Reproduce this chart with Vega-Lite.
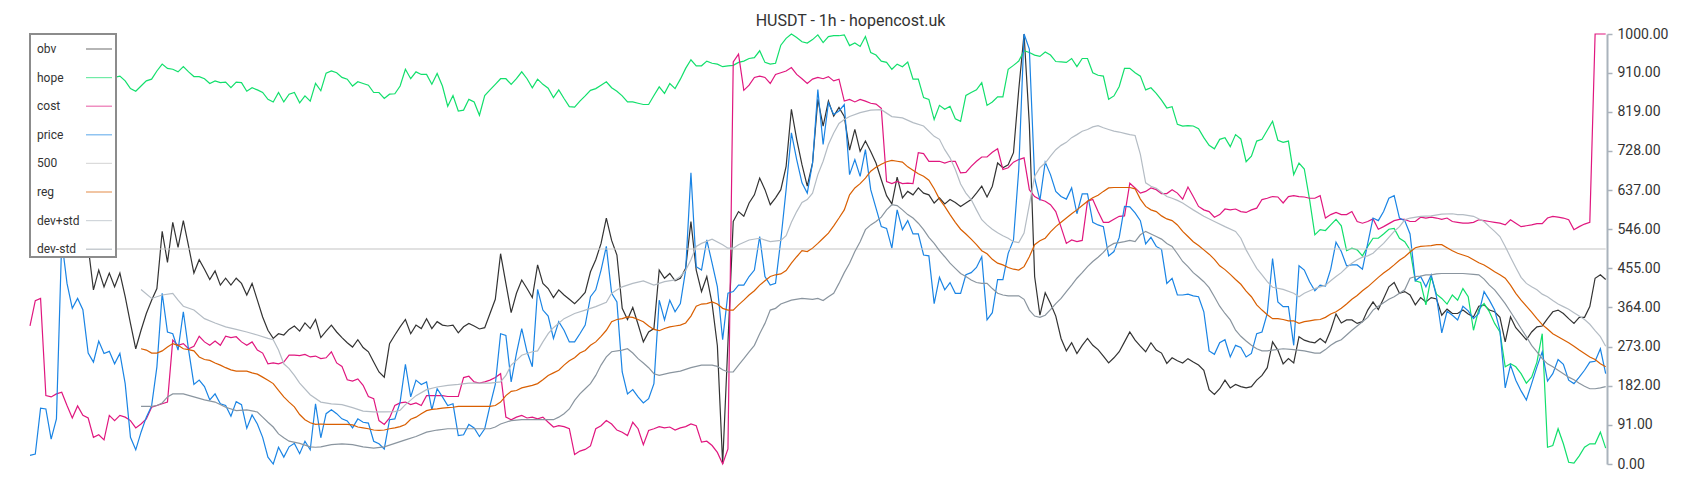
{
"$schema":"https://vega.github.io/schema/vega-lite/v6.json",
"width":1577,"height":430,
"autosize":{"type":"none"},
"padding":{"left":30,"top":34,"right":93,"bottom":36},
"background":"white",
"title":{"text":"HUSDT - 1h - hopencost.uk","fontSize":16,"fontWeight":"normal","color":"#333333","anchor":"middle","offset":-2,"dx":32,"font":"Roboto"},
"config":{"font":"Roboto","view":{"stroke":null},
"legend":{"orient":"top-left","offset":0,"padding":1,"fillColor":"white","strokeColor":"#8c8c8c","strokeWidth":2,"labelFontSize":12,"labelColor":"#333333","labelFont":"Roboto","symbolType":"stroke","symbolSize":676,"symbolStrokeWidth":2.5,"symbolOffset":54,"labelOffset":-76,"rowPadding":8.6,"symbolOpacity":0.6}},
"data":{"values":[
{"i":0,"obv":620,"hope":905,"cost":321,"price":20,"500":500},
{"i":1,"obv":600,"hope":912,"cost":380,"price":23},
{"i":2,"obv":585,"hope":920,"cost":385,"price":130},
{"i":3,"obv":610,"hope":915,"cost":159,"price":128},
{"i":4,"obv":590,"hope":905,"cost":156,"price":58},
{"i":5,"obv":570,"hope":898,"cost":163,"price":105},
{"i":6,"obv":555,"hope":890,"cost":167,"price":520},
{"i":7,"obv":580,"hope":895,"cost":136,"price":420},
{"i":8,"obv":560,"hope":902,"cost":107,"price":362},
{"i":9,"obv":540,"hope":910,"cost":135,"price":385},
{"i":10,"obv":525,"hope":905,"cost":113,"price":359},
{"i":11,"obv":506,"hope":898,"cost":107,"price":258},
{"i":12,"obv":405,"hope":893,"cost":62,"price":237},
{"i":13,"obv":451,"hope":896,"cost":68,"price":286},
{"i":14,"obv":412,"hope":900,"cost":56,"price":257},
{"i":15,"obv":444,"hope":901,"cost":113,"price":262},
{"i":16,"obv":412,"hope":899,"cost":101,"price":233},
{"i":17,"obv":444,"hope":902,"cost":113,"price":257},
{"i":18,"obv":389,"hope":891,"cost":109,"price":187},
{"i":19,"obv":327,"hope":873,"cost":101,"price":62},
{"i":20,"obv":268,"hope":867,"cost":84,"price":33},
{"i":21,"obv":311,"hope":879,"cost":93,"price":74,"reg":268,"dev+std":406,"dev-std":134},
{"i":22,"obv":350,"hope":891,"cost":105,"price":109,"reg":265},
{"i":23,"obv":381,"hope":895,"cost":132,"price":135,"reg":258,"dev+std":385,"dev-std":134},
{"i":24,"obv":408,"hope":914,"cost":136,"price":226,"reg":258,"dev-std":136},
{"i":25,"obv":541,"hope":930,"cost":140,"price":397,"reg":263,"dev+std":393,"dev-std":142},
{"i":26,"obv":469,"hope":920,"cost":144,"price":307,"reg":272,"dev-std":156},
{"i":27,"obv":562,"hope":918,"cost":288,"price":303,"reg":280,"dev+std":397,"dev-std":163},
{"i":28,"obv":504,"hope":912,"cost":276,"price":265,"reg":276,"dev+std":381},
{"i":29,"obv":566,"hope":924,"cost":280,"price":354,"reg":268,"dev+std":367,"dev-std":163},
{"i":30,"obv":506,"hope":912,"cost":268,"price":265,"reg":266},
{"i":31,"obv":444,"hope":901,"cost":274,"price":185,"reg":263,"dev+std":358,"dev-std":156},
{"i":32,"obv":475,"hope":901,"cost":297,"price":195,"reg":249},
{"i":33,"obv":453,"hope":896,"cost":284,"price":180,"reg":243,"dev+std":338,"dev-std":149},
{"i":34,"obv":429,"hope":885,"cost":276,"price":149,"reg":241},
{"i":35,"obv":449,"hope":891,"cost":286,"price":163,"reg":235,"dev+std":328,"dev-std":144},
{"i":36,"obv":416,"hope":887,"cost":276,"price":140,"reg":230},
{"i":37,"obv":432,"hope":888,"cost":297,"price":136,"reg":224,"dev+std":319,"dev-std":132},
{"i":38,"obv":416,"hope":875,"cost":294,"price":111,"reg":219},
{"i":39,"obv":432,"hope":888,"cost":296,"price":145,"reg":216,"dev+std":313,"dev-std":124},
{"i":40,"obv":420,"hope":887,"cost":284,"price":138,"reg":216},
{"i":41,"obv":393,"hope":867,"cost":276,"price":83,"reg":216,"dev+std":307,"dev-std":126},
{"i":42,"obv":420,"hope":875,"cost":284,"price":114,"reg":212},
{"i":43,"obv":381,"hope":870,"cost":265,"price":93,"reg":209,"dev+std":300,"dev-std":121},
{"i":44,"obv":342,"hope":864,"cost":258,"price":62,"reg":202,"dev-std":109},
{"i":45,"obv":311,"hope":848,"cost":233,"price":16,"reg":195,"dev+std":292,"dev-std":97},
{"i":46,"obv":292,"hope":842,"cost":235,"price":0,"reg":187,"dev+std":289,"dev-std":86},
{"i":47,"obv":303,"hope":864,"cost":233,"price":39,"reg":171,"dev+std":265,"dev-std":70},
{"i":48,"obv":300,"hope":842,"cost":237,"price":16,"reg":156,"dev+std":233,"dev-std":61},
{"i":49,"obv":313,"hope":860,"cost":253,"price":40,"reg":144,"dev+std":222,"dev-std":53},
{"i":50,"obv":321,"hope":864,"cost":253,"price":48,"reg":133,"dev+std":206},
{"i":51,"obv":309,"hope":840,"cost":252,"price":24,"reg":115,"dev+std":188,"dev-std":48},
{"i":52,"obv":328,"hope":856,"cost":255,"price":53,"reg":103},
{"i":53,"obv":315,"hope":844,"cost":249,"price":33,"reg":96,"dev+std":161,"dev-std":40},
{"i":54,"obv":336,"hope":885,"cost":251,"price":140,"reg":92,"dev-std":39},
{"i":55,"obv":294,"hope":868,"cost":245,"price":61,"reg":93,"dev+std":144,"dev-std":40},
{"i":56,"obv":309,"hope":909,"cost":247,"price":117,"reg":92},
{"i":57,"obv":323,"hope":914,"cost":261,"price":126,"reg":92,"dev+std":140,"dev-std":45},
{"i":58,"obv":307,"hope":910,"cost":235,"price":117,"reg":92},
{"i":59,"obv":294,"hope":899,"cost":227,"price":105,"reg":92,"dev+std":138,"dev-std":47},
{"i":60,"obv":282,"hope":895,"cost":196,"price":100,"reg":92},
{"i":61,"obv":272,"hope":879,"cost":193,"price":84,"reg":91,"dev+std":131,"dev-std":45},
{"i":62,"obv":289,"hope":889,"cost":198,"price":105,"reg":86},
{"i":63,"obv":271,"hope":885,"cost":183,"price":97,"reg":84,"dev+std":123,"dev-std":40},
{"i":64,"obv":261,"hope":881,"cost":157,"price":95,"reg":82},
{"i":65,"obv":237,"hope":864,"cost":152,"price":53,"reg":79,"dev+std":121,"dev-std":37},
{"i":66,"obv":214,"hope":864,"cost":101,"price":47,"reg":78},
{"i":67,"obv":202,"hope":850,"cost":92,"price":35,"reg":79,"dev+std":121,"dev-std":40},
{"i":68,"obv":280,"hope":860,"cost":107,"price":103,"reg":82},
{"i":69,"obv":300,"hope":861,"cost":136,"price":105,"reg":84,"dev+std":122,"dev-std":48},
{"i":70,"obv":319,"hope":879,"cost":142,"price":144,"reg":87,"dev+std":125},
{"i":71,"obv":336,"hope":918,"cost":144,"price":232,"reg":92,"dev+std":138,"dev-std":56},
{"i":72,"obv":303,"hope":896,"cost":138,"price":156,"reg":104},
{"i":73,"obv":323,"hope":912,"cost":142,"price":195,"reg":109,"dev+std":159,"dev-std":64},
{"i":74,"obv":315,"hope":906,"cost":136,"price":185,"reg":117},
{"i":75,"obv":338,"hope":906,"cost":159,"price":191,"reg":124,"dev+std":173,"dev-std":74},
{"i":76,"obv":315,"hope":883,"cost":159,"price":126,"reg":127},
{"i":77,"obv":331,"hope":908,"cost":159,"price":175,"reg":128,"dev+std":179,"dev-std":79},
{"i":78,"obv":323,"hope":879,"cost":159,"price":156,"reg":130},
{"i":79,"obv":321,"hope":832,"cost":157,"price":136,"reg":131,"dev+std":183,"dev-std":82},
{"i":80,"obv":323,"hope":857,"cost":157,"price":140,"reg":132},
{"i":81,"obv":305,"hope":821,"cost":157,"price":66,"reg":134,"dev+std":185,"dev-std":82},
{"i":82,"obv":319,"hope":823,"cost":201,"price":68,"reg":134},
{"i":83,"obv":327,"hope":848,"cost":204,"price":92,"reg":134,"dev+std":188,"dev-std":82},
{"i":84,"obv":321,"hope":842,"cost":191,"price":84,"reg":134},
{"i":85,"obv":314,"hope":811,"cost":188,"price":64,"reg":134,"dev+std":188,"dev-std":82},
{"i":86,"obv":317,"hope":857,"cost":191,"price":82,"reg":134},
{"i":87,"obv":350,"hope":870,"cost":195,"price":136,"reg":134,"dev+std":188,"dev-std":82},
{"i":88,"obv":383,"hope":883,"cost":201,"price":185,"reg":136,"dev-std":86},
{"i":89,"obv":489,"hope":896,"cost":210,"price":303,"reg":144,"dev+std":191,"dev-std":93},
{"i":90,"obv":420,"hope":896,"cost":109,"price":299,"reg":159,"dev+std":206,"dev-std":97},
{"i":91,"obv":352,"hope":883,"cost":103,"price":191,"reg":169,"dev+std":230,"dev-std":101},
{"i":92,"obv":397,"hope":896,"cost":109,"price":257,"reg":171,"dev+std":241},
{"i":93,"obv":428,"hope":912,"cost":113,"price":315,"reg":177,"dev+std":253,"dev-std":103},
{"i":94,"obv":408,"hope":896,"cost":107,"price":261,"reg":180},
{"i":95,"obv":387,"hope":875,"cost":109,"price":226,"reg":183,"dev+std":261,"dev-std":103},
{"i":96,"obv":463,"hope":895,"cost":105,"price":406,"reg":187,"dev+std":263},
{"i":97,"obv":420,"hope":883,"cost":109,"price":358,"reg":196,"dev+std":284,"dev-std":103},
{"i":98,"obv":408,"hope":874,"cost":97,"price":344,"reg":206,"dev+std":303},
{"i":99,"obv":387,"hope":852,"cost":86,"price":292,"reg":212,"dev+std":317,"dev-std":103},
{"i":100,"obv":405,"hope":870,"cost":89,"price":331,"reg":218,"dev-std":109},
{"i":101,"obv":393,"hope":850,"cost":87,"price":311,"reg":230,"dev+std":338,"dev-std":117},
{"i":102,"obv":383,"hope":831,"cost":82,"price":284,"reg":240,"dev-std":128},
{"i":103,"obv":373,"hope":830,"cost":22,"price":284,"reg":247,"dev+std":350,"dev-std":148},
{"i":104,"obv":385,"hope":844,"cost":30,"price":303,"reg":258,"dev-std":163},
{"i":105,"obv":399,"hope":856,"cost":34,"price":323,"reg":264,"dev+std":358,"dev-std":175},
{"i":106,"obv":447,"hope":869,"cost":42,"price":389,"reg":276,"dev-std":187},
{"i":107,"obv":475,"hope":873,"cost":82,"price":405,"reg":284,"dev+std":366,"dev-std":206},
{"i":108,"obv":513,"hope":881,"cost":89,"price":451,"reg":297,"dev-std":230},
{"i":109,"obv":572,"hope":889,"cost":101,"price":506,"reg":311,"dev+std":376,"dev-std":249},
{"i":110,"obv":520,"hope":875,"cost":93,"price":397,"reg":331,"dev+std":397,"dev-std":261},
{"i":111,"obv":486,"hope":867,"cost":79,"price":377,"reg":336},
{"i":112,"obv":362,"hope":856,"cost":74,"price":214,"reg":338,"dev+std":412,"dev-std":265},
{"i":113,"obv":336,"hope":842,"cost":66,"price":163,"reg":342,"dev-std":268},
{"i":114,"obv":364,"hope":842,"cost":97,"price":173,"reg":341,"dev+std":420,"dev-std":258},
{"i":115,"obv":325,"hope":839,"cost":82,"price":156,"reg":336,"dev-std":245},
{"i":116,"obv":284,"hope":836,"cost":45,"price":142,"reg":331,"dev+std":426,"dev-std":235},
{"i":117,"obv":307,"hope":836,"cost":78,"price":152,"reg":321,"dev-std":224},
{"i":118,"obv":315,"hope":857,"cost":82,"price":187,"reg":313,"dev+std":416,"dev-std":210},
{"i":119,"obv":451,"hope":877,"cost":87,"price":381,"reg":310,"dev-std":206},
{"i":120,"obv":432,"hope":862,"cost":84,"price":335,"reg":315,"dev+std":424},
{"i":121,"obv":443,"hope":885,"cost":86,"price":381,"reg":319,"dev-std":212},
{"i":122,"obv":426,"hope":873,"cost":79,"price":354,"reg":321,"dev+std":428},
{"i":123,"obv":432,"hope":895,"cost":84,"price":373,"reg":323,"dev+std":436,"dev-std":216},
{"i":124,"obv":455,"hope":920,"cost":87,"price":451,"reg":328,"dev+std":450},
{"i":125,"obv":564,"hope":940,"cost":93,"price":677,"reg":344,"dev+std":475,"dev-std":224},
{"i":126,"obv":451,"hope":926,"cost":89,"price":459,"reg":367,"dev+std":506},
{"i":127,"obv":401,"hope":926,"cost":51,"price":451,"reg":372,"dev+std":513,"dev-std":230},
{"i":128,"obv":436,"hope":937,"cost":53,"price":521,"reg":373},
{"i":129,"obv":373,"hope":932,"cost":43,"price":467,"reg":377,"dev+std":523,"dev-std":230},
{"i":130,"obv":275,"hope":930,"cost":27,"price":412,"reg":372,"dev-std":227},
{"i":131,"obv":0,"hope":924,"cost":0,"price":289,"reg":362,"dev+std":510,"dev-std":219},
{"i":132,"obv":282,"hope":926,"cost":35,"price":397,"reg":358,"dev+std":502,"dev-std":214},
{"i":133,"obv":564,"hope":927,"cost":935,"price":401,"reg":358,"dev+std":502,"dev-std":214},
{"i":134,"obv":587,"hope":934,"cost":953,"price":416,"reg":370,"dev+std":510,"dev-std":230},
{"i":135,"obv":576,"hope":937,"cost":869,"price":416,"reg":381,"dev-std":245},
{"i":136,"obv":607,"hope":943,"cost":881,"price":436,"reg":393,"dev+std":521,"dev-std":261},
{"i":137,"obv":626,"hope":945,"cost":899,"price":451,"reg":403,"dev-std":276},
{"i":138,"obv":665,"hope":961,"cost":902,"price":529,"reg":416,"dev+std":525,"dev-std":303},
{"i":139,"obv":638,"hope":934,"cost":899,"price":436,"reg":426,"dev-std":327},
{"i":140,"obv":603,"hope":930,"cost":885,"price":416,"reg":436,"dev+std":517,"dev-std":358},
{"i":141,"obv":619,"hope":932,"cost":906,"price":420,"reg":440,"dev-std":362},
{"i":142,"obv":638,"hope":974,"cost":910,"price":521,"reg":442,"dev+std":520,"dev-std":372},
{"i":143,"obv":692,"hope":990,"cost":914,"price":638,"reg":450,"dev+std":531},
{"i":144,"obv":825,"hope":1000,"cost":922,"price":770,"reg":467,"dev+std":562,"dev-std":381},
{"i":145,"obv":755,"hope":992,"cost":906,"price":708,"reg":482,"dev+std":587},
{"i":146,"obv":696,"hope":982,"cost":896,"price":654,"reg":496,"dev+std":608,"dev-std":385},
{"i":147,"obv":646,"hope":979,"cost":885,"price":630,"reg":494,"dev+std":615},
{"i":148,"obv":700,"hope":987,"cost":895,"price":700,"reg":502,"dev+std":630,"dev-std":383},
{"i":149,"obv":848,"hope":998,"cost":899,"price":871,"reg":513,"dev+std":673,"dev-std":385},
{"i":150,"obv":786,"hope":980,"cost":896,"price":743,"reg":525,"dev+std":704,"dev-std":380},
{"i":151,"obv":844,"hope":994,"cost":901,"price":840,"reg":537,"dev+std":743,"dev-std":389},
{"i":152,"obv":809,"hope":996,"cost":891,"price":813,"reg":554,"dev+std":770,"dev-std":397},
{"i":153,"obv":829,"hope":996,"cost":895,"price":821,"reg":572,"dev+std":792,"dev-std":420},
{"i":154,"obv":808,"hope":998,"cost":844,"price":836,"reg":591,"dev+std":801,"dev-std":445},
{"i":155,"obv":730,"hope":973,"cost":848,"price":673,"reg":626,"dev+std":808,"dev-std":467},
{"i":156,"obv":778,"hope":979,"cost":842,"price":708,"reg":642,"dev-std":494},
{"i":157,"obv":727,"hope":971,"cost":848,"price":669,"reg":652,"dev+std":817,"dev-std":517},
{"i":158,"obv":751,"hope":994,"cost":844,"price":731,"reg":665,"dev-std":545},
{"i":159,"obv":727,"hope":957,"cost":839,"price":638,"reg":681,"dev+std":823,"dev-std":556},
{"i":160,"obv":700,"hope":951,"cost":837,"price":595,"reg":690,"dev-std":564},
{"i":161,"obv":661,"hope":937,"cost":827,"price":552,"reg":697,"dev+std":824,"dev-std":574},
{"i":162,"obv":624,"hope":934,"cost":657,"price":548,"reg":703,"dev-std":591},
{"i":163,"obv":605,"hope":918,"cost":652,"price":502,"reg":706,"dev+std":808,"dev-std":603},
{"i":164,"obv":667,"hope":930,"cost":657,"price":591,"reg":704,"dev-std":601},
{"i":165,"obv":619,"hope":924,"cost":652,"price":545,"reg":702,"dev+std":805,"dev-std":591},
{"i":166,"obv":634,"hope":935,"cost":653,"price":566,"reg":691,"dev-std":580},
{"i":167,"obv":626,"hope":895,"cost":652,"price":535,"reg":683,"dev+std":794,"dev-std":572},
{"i":168,"obv":642,"hope":895,"cost":724,"price":535,"reg":675,"dev-std":560},
{"i":169,"obv":630,"hope":852,"cost":722,"price":486,"reg":669,"dev+std":786,"dev-std":545},
{"i":170,"obv":626,"hope":848,"cost":704,"price":484,"reg":660,"dev-std":527},
{"i":171,"obv":607,"hope":801,"cost":704,"price":373,"reg":640,"dev+std":762,"dev-std":513},
{"i":172,"obv":619,"hope":834,"cost":704,"price":434,"reg":616,"dev+std":755,"dev-std":496},
{"i":173,"obv":605,"hope":825,"cost":700,"price":405,"reg":599,"dev+std":731,"dev-std":482},
{"i":174,"obv":615,"hope":832,"cost":704,"price":422,"reg":580,"dev+std":712,"dev-std":467},
{"i":175,"obv":608,"hope":803,"cost":704,"price":397,"reg":562,"dev+std":685,"dev-std":455},
{"i":176,"obv":599,"hope":797,"cost":677,"price":397,"reg":546,"dev+std":651,"dev-std":443},
{"i":177,"obv":607,"hope":857,"cost":678,"price":440,"reg":535,"dev+std":630,"dev-std":436},
{"i":178,"obv":615,"hope":864,"cost":692,"price":445,"reg":523,"dev+std":615,"dev-std":428},
{"i":179,"obv":630,"hope":870,"cost":704,"price":457,"reg":510,"dev+std":591,"dev-std":422},
{"i":180,"obv":646,"hope":887,"cost":714,"price":482,"reg":496,"dev+std":568,"dev-std":420},
{"i":181,"obv":621,"hope":834,"cost":714,"price":335,"reg":489,"dev+std":556,"dev-std":420},
{"i":182,"obv":646,"hope":842,"cost":725,"price":352,"reg":476,"dev+std":546,"dev-std":408},
{"i":183,"obv":700,"hope":854,"cost":733,"price":429,"reg":467,"dev+std":538,"dev-std":397},
{"i":184,"obv":689,"hope":854,"cost":685,"price":429,"reg":463,"dev+std":531,"dev-std":393},
{"i":185,"obv":696,"hope":918,"cost":689,"price":490,"reg":457,"dev+std":525,"dev-std":391},
{"i":186,"obv":724,"hope":927,"cost":702,"price":521,"reg":453,"dev+std":517,"dev-std":391},
{"i":187,"obv":871,"hope":937,"cost":708,"price":685,"reg":451,"dev+std":515,"dev-std":391},
{"i":188,"obv":1000,"hope":961,"cost":712,"price":1000,"reg":459,"dev+std":537,"dev-std":383},
{"i":189,"obv":790,"hope":957,"cost":638,"price":965,"reg":482,"dev+std":603,"dev-std":358},
{"i":190,"obv":436,"hope":951,"cost":622,"price":665,"reg":510,"dev+std":669,"dev-std":344},
{"i":191,"obv":346,"hope":948,"cost":615,"price":613,"reg":519,"dev+std":689,"dev-std":341},
{"i":192,"obv":398,"hope":958,"cost":611,"price":702,"reg":525,"dev+std":700,"dev-std":346},
{"i":193,"obv":373,"hope":951,"cost":603,"price":673,"reg":540,"dev+std":716,"dev-std":359},
{"i":194,"obv":344,"hope":936,"cost":587,"price":634,"reg":552,"dev+std":731,"dev-std":373},
{"i":195,"obv":292,"hope":935,"cost":551,"price":622,"reg":562,"dev+std":741,"dev-std":385},
{"i":196,"obv":263,"hope":934,"cost":513,"price":616,"reg":572,"dev+std":748,"dev-std":401},
{"i":197,"obv":282,"hope":943,"cost":521,"price":642,"reg":582,"dev+std":759,"dev-std":416},
{"i":198,"obv":257,"hope":924,"cost":517,"price":582,"reg":591,"dev+std":766,"dev-std":432},
{"i":199,"obv":276,"hope":943,"cost":520,"price":628,"reg":601,"dev+std":774,"dev-std":445},
{"i":200,"obv":292,"hope":943,"cost":611,"price":628,"reg":611,"dev+std":778,"dev-std":459},
{"i":201,"obv":276,"hope":910,"cost":615,"price":562,"reg":619,"dev+std":784,"dev-std":471},
{"i":202,"obv":266,"hope":904,"cost":587,"price":556,"reg":625,"dev+std":787,"dev-std":481},
{"i":203,"obv":251,"hope":902,"cost":562,"price":552,"reg":634,"dev+std":782,"dev-std":492},
{"i":204,"obv":235,"hope":848,"cost":562,"price":484,"reg":642,"dev+std":778,"dev-std":506},
{"i":205,"obv":247,"hope":856,"cost":569,"price":494,"reg":643,"dev+std":774,"dev-std":513},
{"i":206,"obv":261,"hope":878,"cost":576,"price":527,"reg":643,"dev+std":772,"dev-std":515},
{"i":207,"obv":284,"hope":920,"cost":577,"price":599,"reg":643,"dev+std":769,"dev-std":517},
{"i":208,"obv":307,"hope":920,"cost":653,"price":598,"reg":643,"dev+std":766,"dev-std":520},
{"i":209,"obv":288,"hope":910,"cost":642,"price":584,"reg":640,"dev+std":764,"dev-std":517},
{"i":210,"obv":274,"hope":902,"cost":630,"price":566,"reg":616,"dev+std":720,"dev-std":533},
{"i":211,"obv":261,"hope":870,"cost":634,"price":512,"reg":599,"dev+std":654,"dev-std":541},
{"i":212,"obv":282,"hope":875,"cost":642,"price":527,"reg":591,"dev+std":646,"dev-std":535},
{"i":213,"obv":265,"hope":862,"cost":638,"price":506,"reg":587,"dev+std":641,"dev-std":529},
{"i":214,"obv":258,"hope":846,"cost":629,"price":499,"reg":577,"dev+std":632,"dev-std":523},
{"i":215,"obv":234,"hope":828,"cost":629,"price":420,"reg":570,"dev+std":622,"dev-std":513},
{"i":216,"obv":247,"hope":831,"cost":638,"price":432,"reg":566,"dev+std":618,"dev-std":506},
{"i":217,"obv":240,"hope":790,"cost":630,"price":393,"reg":556,"dev+std":613,"dev-std":489},
{"i":218,"obv":235,"hope":786,"cost":616,"price":393,"reg":541,"dev+std":607,"dev-std":471},
{"i":219,"obv":245,"hope":787,"cost":644,"price":395,"reg":529,"dev+std":599,"dev-std":459},
{"i":220,"obv":237,"hope":786,"cost":622,"price":391,"reg":517,"dev+std":591,"dev-std":445},
{"i":221,"obv":230,"hope":780,"cost":599,"price":389,"reg":508,"dev-std":435},
{"i":222,"obv":218,"hope":759,"cost":591,"price":354,"reg":498,"dev+std":576,"dev-std":424},
{"i":223,"obv":173,"hope":741,"cost":587,"price":263,"reg":488,"dev-std":410},
{"i":224,"obv":162,"hope":733,"cost":574,"price":255,"reg":476,"dev+std":564,"dev-std":389},
{"i":225,"obv":175,"hope":755,"cost":580,"price":282,"reg":461,"dev-std":367},
{"i":226,"obv":195,"hope":759,"cost":593,"price":289,"reg":452,"dev+std":552,"dev-std":350},
{"i":227,"obv":177,"hope":738,"cost":591,"price":249,"reg":441,"dev-std":335},
{"i":228,"obv":185,"hope":766,"cost":593,"price":276,"reg":429,"dev+std":541,"dev-std":311},
{"i":229,"obv":180,"hope":756,"cost":587,"price":271,"reg":418,"dev+std":525,"dev-std":297},
{"i":230,"obv":177,"hope":703,"cost":585,"price":249,"reg":402,"dev+std":498,"dev-std":286},
{"i":231,"obv":180,"hope":716,"cost":591,"price":257,"reg":389,"dev+std":476,"dev-std":276},
{"i":232,"obv":195,"hope":751,"cost":595,"price":303,"reg":370,"dev+std":455,"dev-std":268},
{"i":233,"obv":206,"hope":755,"cost":615,"price":307,"reg":358,"dev+std":440,"dev-std":263},
{"i":234,"obv":224,"hope":776,"cost":618,"price":350,"reg":347,"dev+std":424,"dev-std":263},
{"i":235,"obv":284,"hope":797,"cost":622,"price":478,"reg":338,"dev+std":411,"dev-std":265},
{"i":236,"obv":265,"hope":753,"cost":621,"price":377,"reg":338},
{"i":237,"obv":233,"hope":748,"cost":607,"price":366,"reg":336,"dev+std":406,"dev-std":268},
{"i":238,"obv":245,"hope":751,"cost":622,"price":366,"reg":333},
{"i":239,"obv":235,"hope":673,"cost":624,"price":276,"reg":333,"dev+std":397,"dev-std":266},
{"i":240,"obv":296,"hope":700,"cost":622,"price":461,"reg":327,"dev+std":389},
{"i":241,"obv":288,"hope":686,"cost":621,"price":451,"reg":331,"dev+std":397,"dev-std":263},
{"i":242,"obv":284,"hope":615,"cost":618,"price":424,"reg":333},
{"i":243,"obv":282,"hope":533,"cost":618,"price":403,"reg":335,"dev+std":408,"dev-std":258},
{"i":244,"obv":292,"hope":545,"cost":624,"price":416,"reg":336,"dev-std":258},
{"i":245,"obv":282,"hope":543,"cost":572,"price":414,"reg":341,"dev+std":416,"dev-std":266},
{"i":246,"obv":311,"hope":556,"cost":580,"price":453,"reg":349,"dev+std":426,"dev-std":276},
{"i":247,"obv":349,"hope":569,"cost":585,"price":516,"reg":354,"dev+std":436,"dev-std":284},
{"i":248,"obv":328,"hope":554,"cost":580,"price":494,"reg":362,"dev+std":445,"dev-std":289},
{"i":249,"obv":335,"hope":496,"cost":580,"price":461,"reg":372,"dev+std":457,"dev-std":300},
{"i":250,"obv":335,"hope":502,"cost":587,"price":463,"reg":383,"dev+std":467,"dev-std":311},
{"i":251,"obv":327,"hope":498,"cost":564,"price":463,"reg":392,"dev+std":475,"dev-std":321},
{"i":252,"obv":331,"hope":484,"cost":560,"price":453,"reg":403,"dev+std":481,"dev-std":331},
{"i":253,"obv":358,"hope":506,"cost":564,"price":513,"reg":412,"dev+std":484,"dev-std":341},
{"i":254,"obv":377,"hope":525,"cost":570,"price":572,"reg":423,"dev+std":490,"dev-std":358},
{"i":255,"obv":359,"hope":525,"cost":546,"price":566,"reg":434,"dev+std":502,"dev-std":367},
{"i":256,"obv":385,"hope":535,"cost":552,"price":587,"reg":444,"dev+std":513,"dev-std":375},
{"i":257,"obv":412,"hope":546,"cost":559,"price":618,"reg":453,"dev+std":527,"dev-std":383},
{"i":258,"obv":422,"hope":548,"cost":566,"price":624,"reg":463,"dev+std":541,"dev-std":389},
{"i":259,"obv":397,"hope":525,"cost":569,"price":572,"reg":474,"dev+std":552,"dev-std":397},
{"i":260,"obv":401,"hope":517,"cost":569,"price":566,"reg":482,"dev+std":568,"dev-std":405},
{"i":261,"obv":393,"hope":498,"cost":564,"price":535,"reg":493,"dev+std":572,"dev-std":432},
{"i":262,"obv":370,"hope":426,"cost":564,"price":426,"reg":503,"dev-std":436},
{"i":263,"obv":387,"hope":422,"cost":574,"price":436,"reg":506,"dev+std":576,"dev-std":437},
{"i":264,"obv":377,"hope":370,"cost":572,"price":412,"reg":507,"dev-std":440},
{"i":265,"obv":387,"hope":436,"cost":574,"price":440,"reg":508,"dev+std":577,"dev-std":440},
{"i":266,"obv":384,"hope":395,"cost":572,"price":389,"reg":510,"dev-std":442},
{"i":267,"obv":346,"hope":385,"cost":569,"price":305,"reg":510,"dev+std":581,"dev-std":443},
{"i":268,"obv":360,"hope":372,"cost":572,"price":355,"reg":503},
{"i":269,"obv":350,"hope":393,"cost":564,"price":346,"reg":496,"dev+std":582,"dev-std":443},
{"i":270,"obv":350,"hope":381,"cost":562,"price":335,"reg":490,"dev+std":580},
{"i":271,"obv":358,"hope":408,"cost":560,"price":367,"reg":486,"dev+std":580,"dev-std":443},
{"i":272,"obv":349,"hope":389,"cost":560,"price":356,"reg":482},
{"i":273,"obv":342,"hope":311,"cost":562,"price":338,"reg":475,"dev+std":576,"dev-std":441},
{"i":274,"obv":367,"hope":359,"cost":568,"price":350,"reg":468,"dev-std":440},
{"i":275,"obv":370,"hope":373,"cost":566,"price":401,"reg":463,"dev+std":564,"dev-std":430},
{"i":276,"obv":358,"hope":354,"cost":564,"price":381,"reg":455,"dev+std":552,"dev-std":416},
{"i":277,"obv":354,"hope":327,"cost":562,"price":358,"reg":447,"dev+std":541,"dev-std":405},
{"i":278,"obv":341,"hope":307,"cost":560,"price":311,"reg":440,"dev+std":529,"dev-std":389},
{"i":279,"obv":284,"hope":226,"cost":556,"price":177,"reg":432,"dev+std":506,"dev-std":373},
{"i":280,"obv":342,"hope":233,"cost":568,"price":230,"reg":416,"dev+std":481,"dev-std":354},
{"i":281,"obv":317,"hope":226,"cost":560,"price":195,"reg":397,"dev+std":457,"dev-std":335},
{"i":282,"obv":303,"hope":210,"cost":552,"price":170,"reg":381,"dev+std":434,"dev-std":315},
{"i":283,"obv":289,"hope":188,"cost":554,"price":149,"reg":367,"dev+std":420,"dev-std":296},
{"i":284,"obv":307,"hope":202,"cost":556,"price":187,"reg":353,"dev+std":412,"dev-std":276},
{"i":285,"obv":319,"hope":237,"cost":559,"price":226,"reg":338,"dev+std":405,"dev-std":261},
{"i":286,"obv":321,"hope":303,"cost":559,"price":261,"reg":324,"dev+std":395,"dev-std":245},
{"i":287,"obv":338,"hope":39,"cost":572,"price":193,"reg":314,"dev+std":389,"dev-std":233},
{"i":288,"obv":354,"hope":43,"cost":576,"price":210,"reg":303,"dev+std":380,"dev-std":226},
{"i":289,"obv":358,"hope":82,"cost":574,"price":243,"reg":296,"dev+std":372,"dev-std":218},
{"i":290,"obv":350,"hope":47,"cost":572,"price":232,"reg":289,"dev+std":366,"dev-std":210},
{"i":291,"obv":338,"hope":4,"cost":568,"price":195,"reg":282,"dev+std":360,"dev-std":202},
{"i":292,"obv":327,"hope":2,"cost":545,"price":187,"reg":274,"dev+std":352,"dev-std":196},
{"i":293,"obv":341,"hope":19,"cost":552,"price":202,"reg":265,"dev+std":344,"dev-std":188},
{"i":294,"obv":341,"hope":39,"cost":558,"price":218,"reg":257,"dev+std":336,"dev-std":181},
{"i":295,"obv":366,"hope":47,"cost":562,"price":237,"reg":249,"dev+std":325,"dev-std":175},
{"i":296,"obv":432,"hope":47,"cost":1000,"price":239,"reg":243,"dev+std":310,"dev-std":175},
{"i":297,"obv":440,"hope":74,"cost":1000,"price":268,"reg":233,"dev+std":296,"dev-std":177},
{"i":298,"obv":429,"hope":37,"cost":1000,"price":210,"reg":226,"dev+std":274,"dev-std":180,"500":500}
]},
"transform":[{"fold":["obv","hope","cost","price","500","reg","dev+std","dev-std"],"as":["series","value"]}],
"mark":{"type":"line","interpolate":"linear","invalid":"filter"},
"encoding":{
"x":{"field":"i","type":"quantitative","scale":{"domain":[0,298.25],"nice":false,"zero":false},"axis":null},
"y":{"field":"value","type":"quantitative","scale":{"domain":[0,1000],"nice":false,"zero":false},
"axis":{"orient":"right","values":[0,91,182,273,364,455,546,637,728,819,910,1000],"format":".2f","title":null,"grid":false,"domainColor":"#aab3bc","domainWidth":2,"tickColor":"#aab3bc","tickWidth":1.5,"tickSize":5,"labelFontSize":14,"labelColor":"#333333","labelPadding":5,"labelFlush":false,"labelFont":"Roboto"}},
"color":{"field":"series","type":"nominal","scale":{"domain":["obv","hope","cost","price","500","reg","dev+std","dev-std"],"range":["#333333","#12df6c","#e0177f","#1a84e4","#c4c4c4","#d95f02","#b4bcc4","#8a959f"]},"legend":{"title":null}},
"strokeWidth":{"field":"series","type":"nominal","scale":{"domain":["obv","hope","cost","price","500","reg","dev+std","dev-std"],"range":[1.2,1.2,1.2,1.2,2.2,3,1,1.4]},"legend":null}
}
}
